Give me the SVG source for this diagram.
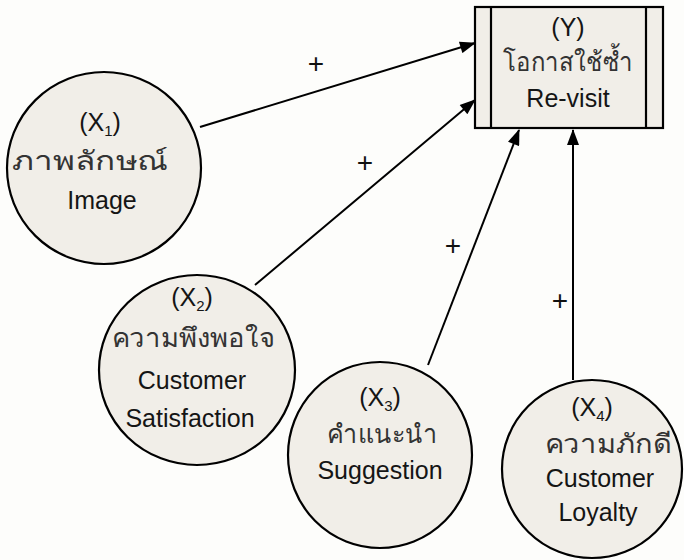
<svg xmlns="http://www.w3.org/2000/svg" width="684" height="560" viewBox="0 0 684 560">
<defs>
<style>
.nd{fill:#f1eee8;stroke:#000;stroke-width:2.2}
.t{font-family:"Liberation Sans","Noto Sans",sans-serif;font-size:25px;fill:#151515;text-anchor:middle}
.th{font-family:"Noto Sans","Liberation Sans",sans-serif;font-size:26px;font-weight:300;fill:#333;text-anchor:middle}
.sub{font-size:15px}
.c{stroke:#000;stroke-width:2;fill:none;marker-end:url(#ah)}
.p{font-family:"Liberation Sans",sans-serif;font-size:28px;fill:#111;text-anchor:middle}
</style>
<marker id="ah" viewBox="0 0 16 12" refX="15" refY="6" markerWidth="17" markerHeight="12" markerUnits="userSpaceOnUse" orient="auto">
<path d="M0,0 L16,6 L0,12 Z" fill="#000"/>
</marker>
</defs>
<rect width="684" height="560" fill="#fdfdfb"/>
<g id="connectors">
<line class="c" x1="200" y1="127" x2="475" y2="43"/>
<line class="c" x1="255" y1="285" x2="475" y2="100"/>
<line class="c" x1="428" y1="365" x2="519" y2="130"/>
<line class="c" x1="573" y1="380" x2="573" y2="130"/>
<text class="p" x="316" y="73">+</text>
<text class="p" x="365" y="172">+</text>
<text class="p" x="453" y="255">+</text>
<text class="p" x="560" y="310">+</text>
</g>
<g id="Y">
<rect class="nd" x="475" y="7" width="188" height="121"/>
<line x1="491" y1="7" x2="491" y2="128" stroke="#000" stroke-width="2.2"/>
<line x1="646" y1="7" x2="646" y2="128" stroke="#000" stroke-width="2.2"/>
<text class="t" x="568" y="36">(Y)</text>
<text class="th" x="568" y="71" textLength="130" lengthAdjust="spacingAndGlyphs">โอกาสใช้ซ้ำ</text>
<text class="t" x="568" y="107">Re-visit</text>
</g>
<g id="X1">
<ellipse class="nd" cx="104" cy="168" rx="97" ry="96"/>
<text class="t" x="100" y="131">(X<tspan class="sub" dy="5">1</tspan><tspan dy="-5">)</tspan></text>
<text class="th" x="90" y="170" textLength="156" lengthAdjust="spacingAndGlyphs">ภาพลักษณ์</text>
<text class="t" x="102" y="209">Image</text>
</g>
<g id="X2">
<ellipse class="nd" cx="197" cy="370" rx="98" ry="95"/>
<text class="t" x="192" y="306">(X<tspan class="sub" dy="5">2</tspan><tspan dy="-5">)</tspan></text>
<text class="th" x="193" y="347" textLength="163" lengthAdjust="spacingAndGlyphs">ความพึงพอใจ</text>
<text class="t" x="192" y="389">Customer</text>
<text class="t" x="190" y="427">Satisfaction</text>
</g>
<g id="X3">
<ellipse class="nd" cx="380" cy="455" rx="92" ry="93"/>
<text class="t" x="380" y="406">(X<tspan class="sub" dy="5">3</tspan><tspan dy="-5">)</tspan></text>
<text class="th" x="382" y="443" textLength="110" lengthAdjust="spacingAndGlyphs">คำแนะนำ</text>
<text class="t" x="380" y="479">Suggestion</text>
</g>
<g id="X4">
<ellipse class="nd" cx="592" cy="469" rx="90" ry="89"/>
<text class="t" x="592" y="416">(X<tspan class="sub" dy="5">4</tspan><tspan dy="-5">)</tspan></text>
<text class="th" x="608" y="453" textLength="127" lengthAdjust="spacingAndGlyphs">ความภักดี</text>
<text class="t" x="600" y="487">Customer</text>
<text class="t" x="598" y="521">Loyalty</text>
</g>
</svg>
